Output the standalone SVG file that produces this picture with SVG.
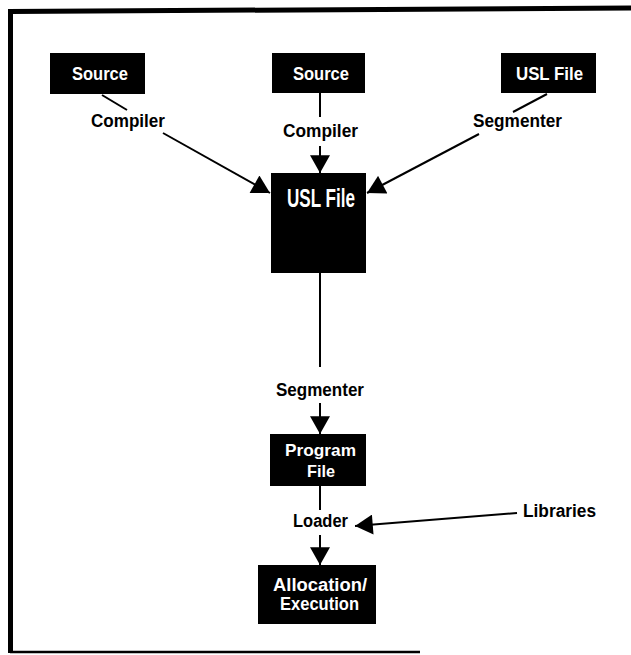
<svg xmlns="http://www.w3.org/2000/svg" width="631" height="655" viewBox="0 0 631 655">
<style>
.box{fill:#000}
.t{font-family:"Liberation Sans",Arial,sans-serif;font-weight:bold;font-size:18px;text-anchor:middle}
.w{fill:#fff}
.k{fill:#000}
.ln{stroke:#000;stroke-width:2;fill:none}
</style>
<defs>
<marker id="ah" markerUnits="userSpaceOnUse" markerWidth="20" markerHeight="20" viewBox="0 0 16 18" refX="16" refY="9" orient="auto">
<path d="M0 0 L16 9 L0 18 Z" fill="#000"/>
</marker>
</defs>
<rect width="631" height="655" fill="#fff"/>
<g id="frame">
<path d="M631 8 L10.5 11.5 L10.5 653" fill="none" stroke="#000" stroke-width="5"/>
<path d="M10 652 L420 652" fill="none" stroke="#000" stroke-width="2.5"/>
</g>
<g id="connectors">
<line class="ln" x1="102" y1="95" x2="127" y2="110"/>
<line class="ln" x1="163" y1="133" x2="270" y2="193" marker-end="url(#ah)"/>
<line class="ln" x1="320" y1="93" x2="320" y2="117"/>
<line class="ln" x1="320" y1="146" x2="320" y2="173" marker-end="url(#ah)"/>
<line class="ln" x1="547" y1="94" x2="513" y2="112"/>
<line class="ln" x1="479" y1="134" x2="367" y2="193" marker-end="url(#ah)"/>
<line class="ln" x1="320" y1="273" x2="320" y2="367"/>
<line class="ln" x1="320" y1="403" x2="320" y2="434" marker-end="url(#ah)"/>
<line class="ln" x1="320" y1="486" x2="320" y2="510"/>
<line class="ln" x1="320" y1="535" x2="320" y2="565" marker-end="url(#ah)"/>
<line class="ln" x1="517" y1="513" x2="355" y2="526" marker-end="url(#ah)"/>
</g>
<g id="source1">
<rect class="box" x="50" y="53" width="95" height="41"/>
<text class="t w" x="100" y="80" textLength="56" lengthAdjust="spacingAndGlyphs">Source</text>
</g>
<g id="source2">
<rect class="box" x="272" y="53" width="93" height="40"/>
<text class="t w" x="321" y="80" textLength="56" lengthAdjust="spacingAndGlyphs">Source</text>
</g>
<g id="uslfile-top">
<rect class="box" x="501" y="53" width="95" height="40"/>
<text class="t w" x="549.5" y="80" textLength="67" lengthAdjust="spacingAndGlyphs">USL File</text>
</g>
<g id="label-compiler1">
<text class="t k" x="128" y="127" textLength="74" lengthAdjust="spacingAndGlyphs">Compiler</text>
</g>
<g id="label-compiler2">
<text class="t k" x="320.5" y="137" textLength="75" lengthAdjust="spacingAndGlyphs">Compiler</text>
</g>
<g id="label-segmenter1">
<text class="t k" x="517.5" y="127" textLength="89" lengthAdjust="spacingAndGlyphs">Segmenter</text>
</g>
<g id="uslfile-main">
<rect class="box" x="271" y="173" width="95" height="100"/>
<text class="t w" x="321" y="207" style="font-size:25px" textLength="68" lengthAdjust="spacingAndGlyphs">USL File</text>
</g>
<g id="label-segmenter2">
<text class="t k" x="320" y="396" textLength="88" lengthAdjust="spacingAndGlyphs">Segmenter</text>
</g>
<g id="programfile">
<rect class="box" x="270" y="434" width="96" height="52"/>
<text class="t w" x="320.5" y="456" style="font-size:16.5px" textLength="71" lengthAdjust="spacingAndGlyphs">Program</text>
<text class="t w" x="321" y="477" style="font-size:16.5px" textLength="28" lengthAdjust="spacingAndGlyphs">File</text>
</g>
<g id="label-loader">
<text class="t k" x="320.5" y="527" textLength="55" lengthAdjust="spacingAndGlyphs">Loader</text>
</g>
<g id="label-libraries">
<text class="t k" x="559.5" y="517" textLength="73" lengthAdjust="spacingAndGlyphs">Libraries</text>
</g>
<g id="allocation">
<rect class="box" x="258" y="565" width="118" height="59"/>
<text class="t w" x="320" y="591" textLength="94" lengthAdjust="spacingAndGlyphs">Allocation/</text>
<text class="t w" x="319.5" y="610" textLength="79" lengthAdjust="spacingAndGlyphs">Execution</text>
</g>
</svg>
